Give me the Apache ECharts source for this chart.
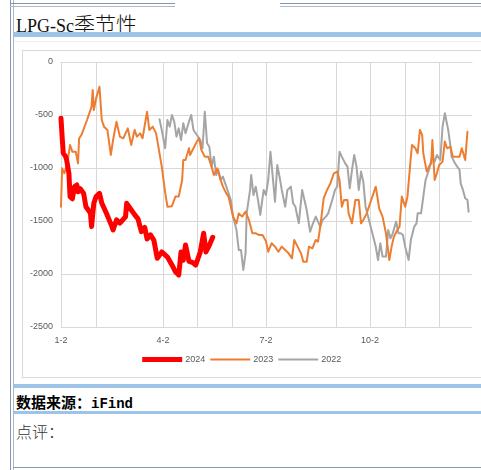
<!DOCTYPE html>
<html>
<head>
<meta charset="utf-8">
<script src="https://cdn.jsdelivr.net/npm/echarts@6/dist/echarts.min.js"></script>
<style>
  html, body { margin:0; padding:0; background:#fff; }
  body { width:481px; height:470px; position:relative; overflow:hidden; }
  .abs { position:absolute; }
  #chart { position:absolute; left:0; top:0; width:481px; height:470px; }
</style>
</head>
<body>
<!-- document frame -->
<div class="abs" style="left:10px;top:0;width:1px;height:470px;background:#8497B0"></div>
<div class="abs" style="left:13px;top:0;width:1px;height:470px;background:#A9B8CC"></div>
<div class="abs" style="left:10px;top:3px;width:165px;height:1px;background:#8497B0"></div>
<div class="abs" style="left:10px;top:6px;width:165px;height:1px;background:#A9B8CC"></div>
<div class="abs" style="left:280px;top:3px;width:201px;height:1px;background:#8497B0"></div>
<div class="abs" style="left:280px;top:6px;width:201px;height:1px;background:#A9B8CC"></div>
<div class="abs" style="left:16px;top:8px;font-size:0;white-space:nowrap;color:#111">
  <span style="font-family:'Liberation Serif',serif;font-size:18px;">LPG-Sc</span><span style="font-family:'Noto Sans CJK SC',sans-serif;font-size:21px;font-weight:300;">季节性</span>
</div>
<div class="abs" style="left:14px;top:32px;width:467px;height:5px;background:#9DC3E6"></div>
<div class="abs" style="left:14px;top:41px;width:467px;height:1px;background:#EEEEEE"></div>
<div class="abs" style="left:22px;top:50px;width:470px;height:328px;border:1px solid #D9D9D9;box-sizing:border-box"></div>
<div class="abs" style="left:14px;top:384px;width:467px;height:4px;background:#9DC3E6"></div>
<div class="abs" style="left:16px;top:391px;font-size:0;white-space:nowrap;color:#000">
  <span style="font-family:'Noto Sans CJK SC',sans-serif;font-size:15px;font-weight:bold;">数据来源：</span><span style="font-family:'Liberation Mono',monospace;font-size:14px;font-weight:bold;">iFind</span>
</div>
<div class="abs" style="left:14px;top:411px;width:467px;height:3px;background:#9DC3E6"></div>
<div class="abs" style="left:16px;top:419px;font-family:'Noto Sans CJK SC',sans-serif;font-size:16px;font-weight:300;color:#333">点评：</div>
<div class="abs" style="left:13px;top:467px;width:468px;height:1px;background:#8497B0"></div>

<div id="chart"></div>
<script>
// ---- data (x = day index counted from Jan 2, y = spread value) ----
const seriesNames = ['2024', '2023', '2022'];
const xTickLabels = ['1-2', '4-2', '7-2', '10-2'];
const xTickIndex = [0, 90, 181, 273];
const gridIndex = [0, 31, 90, 120, 151, 181, 243, 273, 304, 334];
const yMin = -2500, yMax = 0, yStep = 500;

const s2024 = [[0,-531],[1,-705],[2,-860],[4,-890],[5,-925],[7,-1050],[8,-1270],[10,-1290],[12,-1175],[14,-1160],[15,-1225],[17,-1195],[20,-1240],[22,-1365],[26,-1425],[27,-1553],[29,-1330],[31,-1270],[34,-1240],[36,-1330],[40,-1425],[45,-1553],[46,-1585],[49,-1490],[52,-1520],[57,-1460],[58,-1333],[61,-1380],[65,-1440],[68,-1480],[71,-1601],[74,-1560],[76,-1670],[79,-1630],[82,-1680],[85,-1852],[89,-1792],[94,-1840],[98,-1915],[101,-1978],[104,-2010],[106,-1792],[108,-1870],[110,-1726],[113,-1880],[116,-1890],[119,-1915],[123,-1792],[126,-1616],[128,-1792],[131,-1730],[134,-1654]];

const s2023 = [[0,-1365],[1,-1003],[3,-1050],[5,-972],[6,-925],[8,-783],[10,-846],[13,-846],[15,-956],[16,-720],[18,-689],[23,-547],[27,-421],[28,-264],[29,-453],[31,-343],[34,-233],[36,-547],[38,-610],[41,-641],[44,-877],[46,-736],[49,-563],[52,-704],[55,-720],[59,-626],[62,-783],[65,-641],[67,-704],[70,-673],[72,-720],[76,-469],[78,-641],[81,-610],[84,-673],[86,-799],[89,-987],[92,-1230],[94,-1365],[98,-1360],[101,-1270],[104,-1270],[107,-1113],[108,-925],[110,-925],[113,-814],[114,-877],[117,-814],[120,-751],[122,-720],[124,-830],[127,-893],[130,-893],[133,-987],[135,-1066],[138,-1003],[141,-1113],[143,-1176],[146,-1239],[148,-1270],[150,-1365],[152,-1459],[155,-1522],[157,-1428],[160,-1459],[163,-1412],[166,-1490],[169,-1616],[172,-1616],[175,-1632],[178,-1632],[181,-1690],[183,-1790],[186,-1710],[189,-1742],[192,-1790],[195,-1742],[198,-1773],[201,-1805],[204,-1852],[206,-1679],[209,-1742],[212,-1805],[214,-1884],[217,-1884],[219,-1742],[222,-1758],[225,-1679],[227,-1695],[229,-1553],[232,-1286],[235,-1207],[238,-1144],[241,-1050],[244,-1034],[246,-1113],[248,-1365],[250,-1302],[253,-1302],[254,-1428],[257,-1522],[260,-1302],[263,-1302],[265,-1522],[267,-1490],[270,-1428],[273,-1333],[278,-1176],[281,-1380],[284,-1459],[287,-1616],[290,-1868],[292,-1742],[294,-1648],[297,-1585],[299,-1553],[301,-1270],[304,-1365],[306,-1270],[309,-893],[310,-783],[313,-814],[315,-861],[317,-641],[319,-689],[320,-861],[323,-1034],[325,-987],[327,-956],[328,-736],[330,-1113],[332,-1050],[334,-972],[337,-940],[339,-751],[341,-814],[344,-799],[346,-893],[349,-893],[352,-893],[354,-814],[357,-925],[359,-657]];

const s2022 = [[87,-540],[89,-641],[92,-814],[94,-547],[96,-610],[98,-500],[100,-563],[102,-704],[104,-626],[106,-736],[108,-578],[110,-673],[113,-563],[115,-500],[117,-641],[120,-689],[123,-736],[125,-814],[127,-469],[129,-767],[131,-799],[133,-987],[135,-893],[137,-1066],[139,-1019],[141,-1113],[143,-1082],[146,-1176],[148,-1239],[150,-1302],[152,-1459],[155,-1585],[157,-1774],[159,-1774],[161,-1962],[163,-1805],[164,-1428],[167,-1207],[168,-1066],[170,-1255],[172,-1176],[174,-1302],[176,-1443],[179,-1207],[181,-1255],[183,-1113],[185,-846],[187,-1082],[189,-1318],[191,-972],[193,-1082],[195,-1207],[198,-1365],[200,-1207],[203,-1176],[205,-1333],[207,-1365],[210,-1522],[213,-1207],[215,-1302],[217,-1396],[220,-1601],[222,-1538],[225,-1459],[227,-1506],[229,-1553],[231,-1490],[234,-1459],[236,-1428],[240,-1286],[242,-1207],[244,-1176],[246,-846],[248,-893],[251,-956],[253,-987],[255,-1192],[257,-1019],[259,-877],[261,-987],[263,-1207],[265,-1034],[267,-1129],[269,-1365],[272,-1490],[275,-1616],[278,-1742],[280,-1868],[282,-1710],[284,-1836],[287,-1836],[289,-1585],[291,-1664],[293,-1616],[296,-1506],[298,-1616],[300,-1616],[302,-1632],[304,-1742],[307,-1868],[309,-1679],[312,-1553],[314,-1522],[315,-1428],[318,-1428],[320,-1270],[322,-1113],[325,-1019],[327,-925],[328,-893],[330,-940],[332,-877],[335,-925],[337,-610],[339,-484],[342,-641],[344,-799],[345,-893],[348,-956],[352,-1019],[353,-1145],[355,-1207],[357,-1286],[359,-1302],[360,-1412]];

const seriesColors = ['#FF0000', '#ED7D31', '#A5A5A5'];
const seriesWidths = [5, 2, 2];

// day categories Jan 2 .. Dec 31 (axis only)
const categories = [];
(function () {
  const d = new Date(2023, 0, 2);
  while (d.getFullYear() === 2023) {
    categories.push((d.getMonth() + 1) + '-' + d.getDate());
    d.setDate(d.getDate() + 1);
  }
})();

const chart = echarts.init(document.getElementById('chart'), null, { renderer: 'canvas' });
const allData = [s2024, s2023, s2022];
chart.setOption({
  backgroundColor: 'transparent',
  animation: false,
  grid: { left: 61, right: 9, top: 62, bottom: 143, containLabel: false },
  legend: {
    data: seriesNames.map((n, i) => ({ name: n, lineStyle: { width: seriesWidths[i], color: seriesColors[i], cap: 'butt' } })),
    top: 350,
    left: 'center',
    itemWidth: 40,
    itemHeight: 10,
    itemGap: 4,
    itemStyle: { opacity: 0 },
    textStyle: { color: '#595959', fontSize: 9, fontFamily: 'Liberation Sans, Arial, sans-serif', padding: [0, 0, 0, -2] }
  },
  xAxis: {
    type: 'category',
    data: categories,
    boundaryGap: false,
    axisLine: { show: true, lineStyle: { color: '#D9D9D9', width: 1 } },
    axisTick: { show: false },
    axisLabel: {
      interval: (i) => xTickIndex.indexOf(i) >= 0,
      color: '#595959', fontSize: 9, fontFamily: 'Liberation Sans, Arial, sans-serif', margin: 9
    },
    splitLine: {
      show: true,
      interval: (i) => gridIndex.indexOf(i) >= 0,
      lineStyle: { color: '#D9D9D9', width: 1 }
    }
  },
  yAxis: {
    type: 'value',
    min: yMin, max: yMax, interval: yStep,
    axisLine: { show: false },
    axisTick: { show: false },
    axisLabel: { color: '#595959', fontSize: 9, fontFamily: 'Liberation Sans, Arial, sans-serif', margin: 8, formatter: (v) => String(v) },
    splitLine: { lineStyle: { color: '#D9D9D9', width: 1 } }
  },
  series: seriesNames.map((n, i) => ({
    name: n,
    type: 'line',
    data: allData[i],
    showSymbol: false,
    symbol: 'none',
    smooth: false,
    lineStyle: { color: seriesColors[i], width: seriesWidths[i], join: 'round', cap: 'round' },
    itemStyle: { color: seriesColors[i] },
    z: 3 - i
  }))
});
</script>
</body>
</html>
